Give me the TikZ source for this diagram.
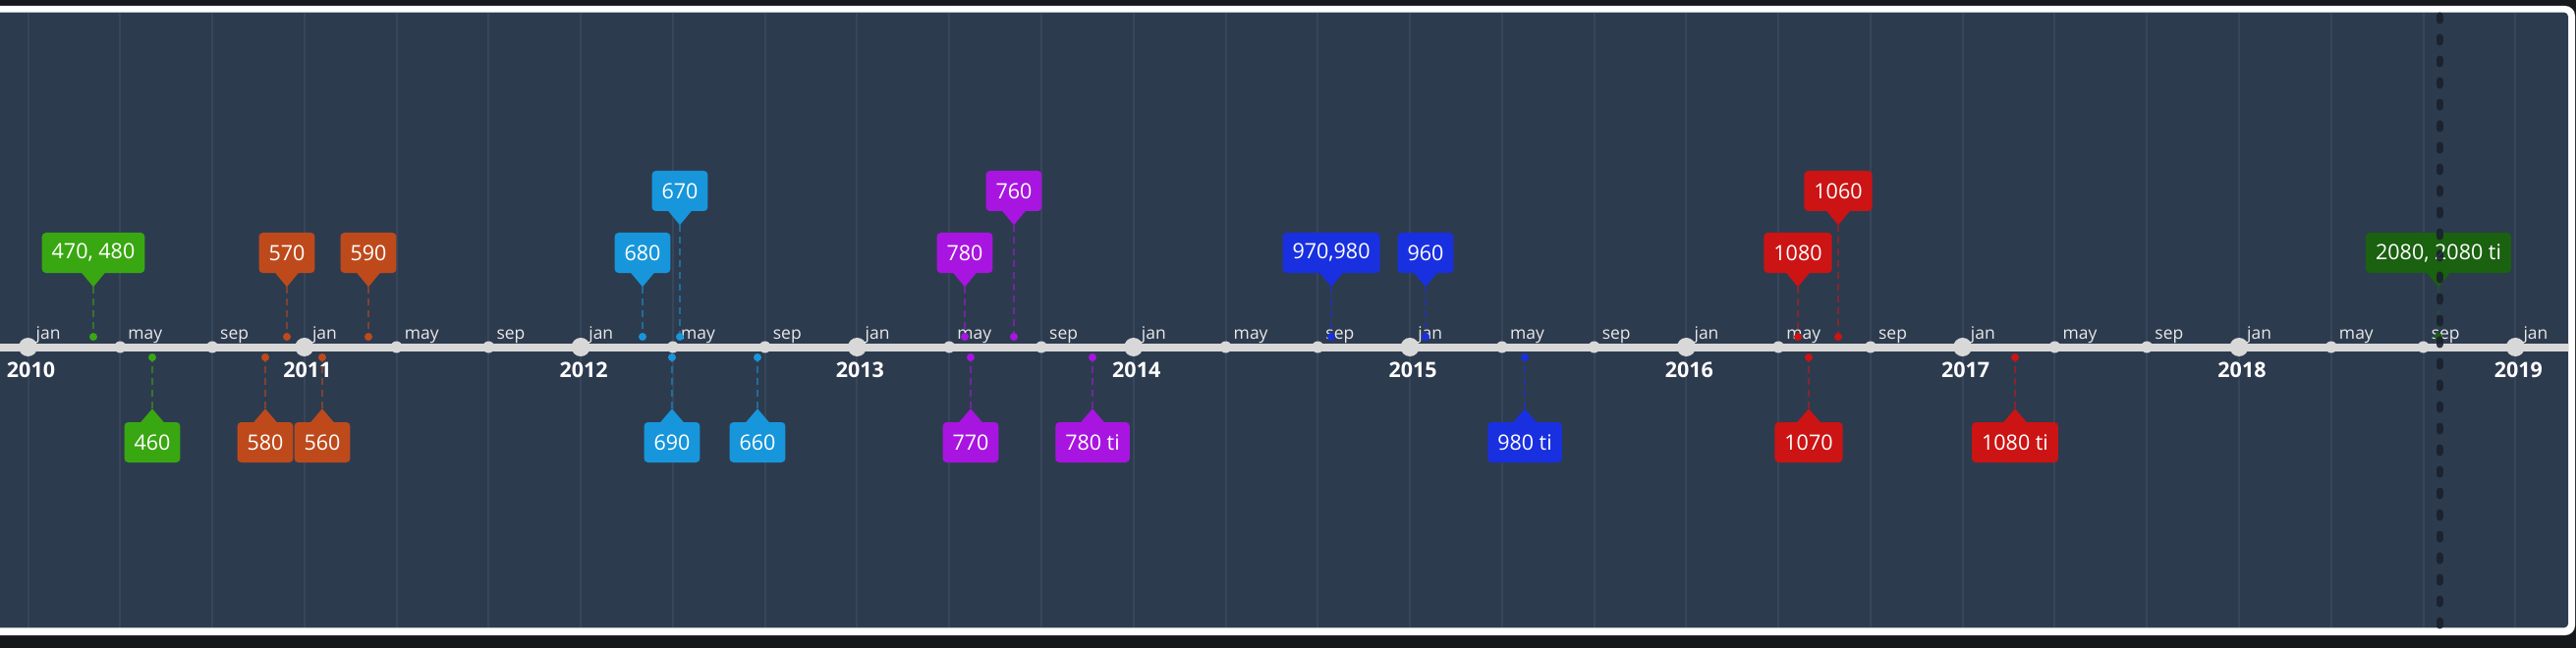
\documentclass[tikz,border=0pt]{standalone}
\usepackage{fontspec}
\setmainfont{Open Sans}
\usetikzlibrary{calc}
\definecolor{outerbg}{RGB}{23,24,27}
\definecolor{panelbg}{RGB}{45,59,79}
\definecolor{gridc}{RGB}{55,70,90}
\definecolor{axisc}{RGB}{216,216,216}
\definecolor{labc}{RGB}{232,232,232}
\definecolor{cgreen}{RGB}{57,167,17}
\definecolor{corange}{RGB}{190,74,28}
\definecolor{clblue}{RGB}{23,150,219}
\definecolor{cpurple}{RGB}{168,21,224}
\definecolor{cblue}{RGB}{25,48,224}
\definecolor{cred}{RGB}{204,20,20}
\definecolor{cdgreen}{RGB}{26,97,16}
\definecolor{vlinec}{RGB}{26,33,46}
\tikzset{
  callbox/.style={rectangle, rounded corners=4pt, fill=#1, text=white, minimum height=41pt,
    inner xsep=10pt, inner ysep=0pt, font=\fontsize{21.5}{24}\selectfont},
  evdot/.style={circle, fill=#1, inner sep=0pt, minimum size=8pt},
  conn/.style={draw=#1!55!panelbg, line width=2.5pt, dash pattern=on 7pt off 5pt},
  yeardot/.style={circle, fill=axisc, inner sep=0pt, minimum size=19pt},
  monthdot/.style={circle, fill=axisc, inner sep=0pt, minimum size=12pt},
  monthlab/.style={anchor=base west, inner sep=0pt, text=labc, font=\fontsize{17.5}{20}\selectfont},
  yearlab/.style={anchor=base, inner sep=0pt, text=white, font=\bfseries\fontsize{21.5}{24}\selectfont},
}
\newcommand{\evabove}[5]{%
  \node[evdot=#4] (#1d) at (#2,343) {};
  \node[callbox=#4] (#1) at (#2,#3) {#5};
  \coordinate (#1t) at ($(#1.south)+(0,14)$);
  \fill[#4] ($(#1.south)+(-12,-0.5)$) -- ($(#1.south)+(12,-0.5)$) -- (#1t) -- cycle;
  \draw[conn=#4] (#1t) -- (#1d);
}
\newcommand{\evbelow}[4]{%
  \node[evdot=#3] (#1d) at (#2,364) {};
  \node[callbox=#3] (#1) at (#2,450.5) {#4};
  \coordinate (#1t) at ($(#1.north)+(0,-13.5)$);
  \fill[#3] ($(#1.north)+(-12,0.5)$) -- ($(#1.north)+(12,0.5)$) -- (#1t) -- cycle;
  \draw[conn=#3] (#1t) -- (#1d);
}
\begin{document}
\begin{tikzpicture}[x=1pt,y=-1pt]
\useasboundingbox (0,0) rectangle (2622,660);
\clip (0,0) rectangle (2622,660);
\fill[outerbg] (0,0) rectangle (2622,660);
\fill[white, rounded corners=10pt] (-30,6) rectangle (2621,647);
\fill[panelbg, rounded corners=4pt] (-30,12.7) rectangle (2614,639.3);
% grid lines
\foreach \i in {0,...,27} {
  \pgfmathsetmacro{\tx}{28.5+\i*93.77}
  \draw[gridc, line width=2pt] (\tx,12.7) -- (\tx,639.3);
}
% axis
\coordinate (axl) at (-10,353.5);
\coordinate (axr) at (2614,353.5);
\draw[axisc, line width=8pt] (axl) -- (axr);
\foreach \i in {0,...,27} {
  \pgfmathsetmacro{\tx}{28.5+\i*93.77}
  \pgfmathtruncatemacro{\m}{mod(\i,3)}
  \pgfmathtruncatemacro{\yr}{2010+\i/3}
  \ifnum\m=0
    \node[yeardot] (t\i) at (\tx,353.5) {};
    \node[yearlab] (y\i) at (\tx+3,384) {\yr};
  \else
    \node[monthdot] (t\i) at (\tx,353.5) {};
  \fi
  \node[monthlab] (m\i) at (\tx+8,345) {\ifcase\m jan\or may\or sep\fi};
}
% events
\evabove{e470}{95}{257.5}{cgreen}{470, 480}
\evbelow{e460}{155}{cgreen}{460}
\evabove{e570}{292}{257.5}{corange}{570}
\evabove{e590}{375}{257.5}{corange}{590}
\evbelow{e580}{270}{corange}{580}
\evbelow{e560}{328}{corange}{560}
\evabove{e680}{654}{257.5}{clblue}{680}
\evabove{e670}{692}{194.5}{clblue}{670}
\evbelow{e690}{684}{clblue}{690}
\evbelow{e660}{771}{clblue}{660}
\evabove{e780}{982}{257.5}{cpurple}{780}
\evabove{e760}{1032}{194.5}{cpurple}{760}
\evbelow{e770}{988}{cpurple}{770}
\evbelow{e780ti}{1112}{cpurple}{780 ti}
\evabove{e970}{1355}{257.5}{cblue}{970,980}
\evabove{e960}{1451}{257.5}{cblue}{960}
\evbelow{e980ti}{1552}{cblue}{980 ti}
\evabove{e1080}{1830}{257.5}{cred}{1080}
\evabove{e1060}{1871}{194.5}{cred}{1060}
\evbelow{e1070}{1841}{cred}{1070}
\evbelow{e1080ti}{2051}{cred}{1080 ti}
\evabove{e2080}{2482}{257.5}{cdgreen}{2080, 2080 ti}
% current-time marker
\coordinate (vtop) at (2483,16);
\coordinate (vbot) at (2483,640);
\draw[vlinec, line width=7pt, line cap=round, dash pattern=on 5pt off 17pt, opacity=0.9] (vtop) -- (vbot);
\end{tikzpicture}
\end{document}
